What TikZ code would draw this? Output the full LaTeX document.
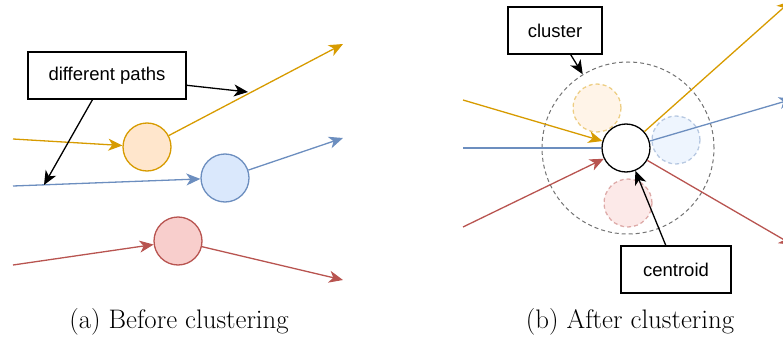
\documentclass[tikz,border=0pt]{standalone}
\usepackage{fontspec}
\newfontfamily\boxfont{Liberation Sans}
\usetikzlibrary{arrows.meta}
\definecolor{orl}{HTML}{D79B00}
\definecolor{orf}{HTML}{FFE6CC}
\definecolor{bll}{HTML}{6C8EBF}
\definecolor{blf}{HTML}{DAE8FC}
\definecolor{rdl}{HTML}{B85450}
\definecolor{rdf}{HTML}{F8CECC}
\tikzset{
  tip/.style={-{Stealth[length=14pt,width=12pt,inset=4pt]}},
  path/.style={line width=1.3pt},
  dot/.style={circle,minimum size=48pt,inner sep=0pt,line width=1.3pt},
  ghost/.style={dot,dashed,dash pattern=on 4pt off 3pt,draw opacity=0.45,fill opacity=0.45},
  label/.style={draw,line width=1.3pt,minimum height=47pt,inner sep=0pt,font=\boxfont\fontsize{18.5}{22}\selectfont},
  caption/.style={font=\fontsize{26.8}{30}\selectfont}
}
\begin{document}
\begin{tikzpicture}[x=1pt,y=-1pt]
\useasboundingbox (0,0) rectangle (783,342);
% before clustering
\node[dot,draw=orl,fill=orf] (oa) at (147,147) {};
\node[dot,draw=bll,fill=blf] (ba) at (225,178) {};
\node[dot,draw=rdl,fill=rdf] (ra) at (178,241) {};
\coordinate (oin) at (13,139);
\coordinate (oout) at (343,44);
\coordinate (bin) at (13,186);
\coordinate (bout) at (343,138);
\coordinate (rin) at (13,265);
\coordinate (rout) at (343,280);
\draw[path,orl,tip] (oin) -- (oa);
\draw[path,orl,tip] (oa) -- (oout);
\draw[path,bll,tip] (bin) -- (ba);
\draw[path,bll,tip] (ba) -- (bout);
\draw[path,rdl,tip] (rin) -- (ra);
\draw[path,rdl,tip] (ra) -- (rout);
\node[label,minimum width=158pt] (dp) at (107,75.5) {different paths};
\coordinate (ohit) at (248,92);
\coordinate (bhit) at (44,185);
\draw[path,tip] (dp.-7) -- (ohit);
\draw[path,tip] (dp.-121) -- (bhit);
% after clustering
\node[circle,minimum size=172pt,inner sep=0pt,draw=black!55,line width=1pt,dashed,dash pattern=on 4pt off 3pt] (cl) at (628,148) {};
\node[ghost,draw=orl,fill=orf] (og) at (597,108) {};
\node[ghost,draw=bll,fill=blf] (bg) at (676,140) {};
\node[ghost,draw=rdl,fill=rdf] (rg) at (628,203) {};
\node[dot,draw=black,fill=white] (c) at (626,148) {};
\coordinate (oin2) at (463,100);
\coordinate (bin2) at (463,148);
\coordinate (rin2) at (463,227);
\coordinate (oout2) at (791,1);
\coordinate (bout2) at (793,99);
\coordinate (rout2) at (793,245);
\draw[path,orl,tip] (oin2) -- (c);
\draw[path,bll] (bin2) -- (c);
\draw[path,rdl,tip] (rin2) -- (c);
\draw[path,orl,tip] (c) -- (oout2);
\draw[path,bll,tip] (c) -- (bout2);
\draw[path,rdl,tip] (c) -- (rout2);
\node[label,minimum width=94pt] (cb) at (555,30.5) {cluster};
\node[label,minimum width=110pt] (ct) at (676,269.5) {centroid};
\draw[path,tip] (cb.-57) -- (cl);
\draw[path,tip] (ct.113) -- (c);
% captions
\node[caption] (capa) at (179,322) {(a) Before clustering};
\node[caption] (capb) at (630,322) {(b) After clustering};
\end{tikzpicture}
\end{document}
